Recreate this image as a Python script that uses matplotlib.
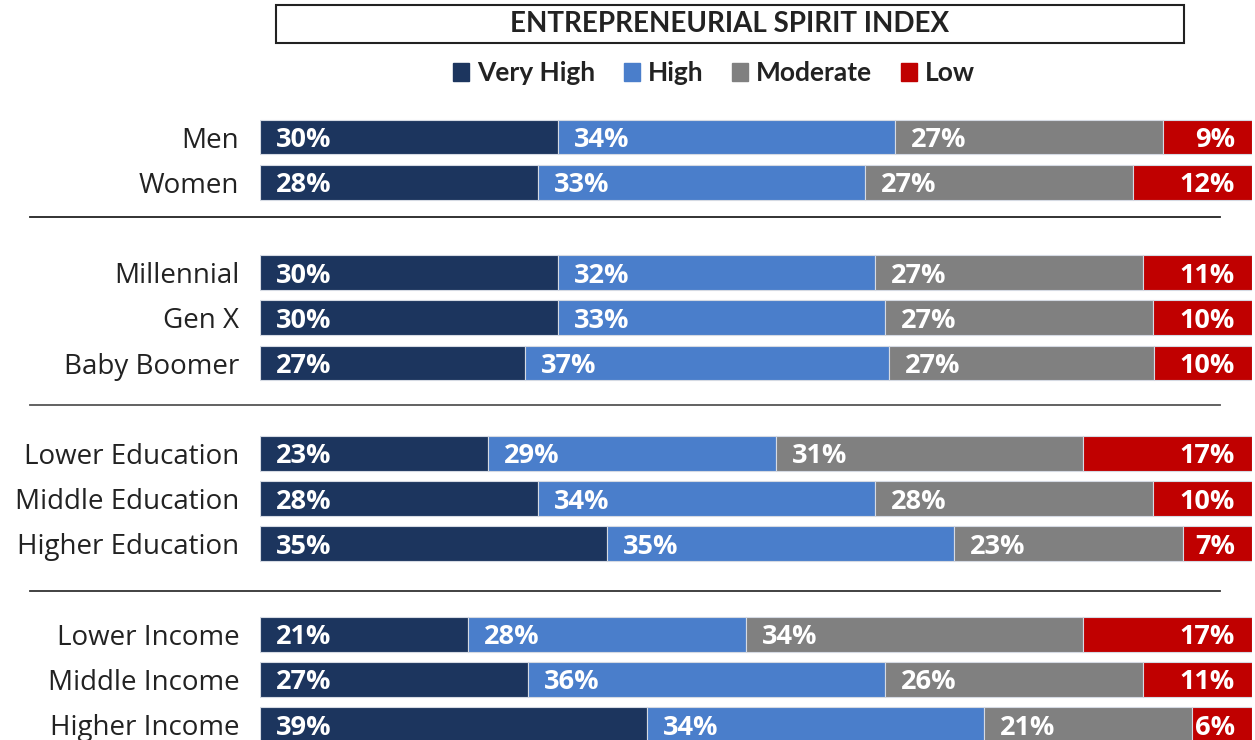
import matplotlib.pyplot as plt
import matplotlib.patches as mpatches
from matplotlib.lines import Line2D
import numpy as np

plt.rcParams['font.family'] = ['Lato', 'DejaVu Sans']

categories = ['Men', 'Women', 'Millennial', 'Gen X', 'Baby Boomer',
              'Lower Education', 'Middle Education', 'Higher Education',
              'Lower Income', 'Middle Income', 'Higher Income']
very_high = [30, 28, 30, 30, 27, 23, 28, 35, 21, 27, 39]
high = [34, 33, 32, 33, 37, 29, 34, 35, 28, 36, 34]
moderate = [27, 27, 27, 27, 27, 31, 28, 23, 34, 26, 21]
low = [9, 12, 11, 10, 10, 17, 10, 7, 17, 11, 6]
series_names = ['Very High', 'High', 'Moderate', 'Low']
colors = ['#1c355e', '#4a7ecb', '#808080', '#c00000']

# rows with a blank slot between groups
ypos = np.array([0, 1, 3, 4, 5, 7, 8, 9, 11, 12, 13])

W, H = 1255, 740
fig = plt.figure(figsize=(W / 100, H / 100), dpi=100)
top_px, bot_px = 115, 740
ax = fig.add_axes([260 / W, 1 - bot_px / H, (1252 - 260) / W, (bot_px - top_px) / H])

step = 45.2
ax.set_ylim((bot_px - 137) / step, (top_px - 137) / step)
ax.set_xlim(0, 100)

series = np.array([very_high, high, moderate, low], dtype=float)
# rounded labels may not add to exactly 100, scale each row to full width
shares = series / series.sum(axis=0) * 100

num_font = dict(family='Open Sans', size=19.5, weight='bold', color='white')
left = np.zeros(len(categories))
for i in range(4):
    ax.barh(ypos, shares[i], left=left, height=0.77, color=colors[i],
            edgecolor='#d5dae3', linewidth=0.8)
    for y, l, w, v in zip(ypos, left, shares[i], series[i]):
        if i == 3:
            ax.annotate(f'{v:.0f}%', (l + w, y), xytext=(-17, 0), textcoords='offset pixels',
                        ha='right', va='center_baseline', **num_font)
        else:
            ax.annotate(f'{v:.0f}%', (l, y), xytext=(16, 0), textcoords='offset pixels',
                        ha='left', va='center_baseline', **num_font)
    left += shares[i]

ax.set_yticks(ypos)
ax.set_yticklabels(categories, fontsize=20, color='#222222', family='Open Sans')
ax.tick_params(axis='y', length=0, pad=15)
ax.set_xticks([])
for s in ax.spines.values():
    s.set_visible(False)

# group separators
for py, c in [(217, '#222222'), (405, '#555555'), (591, '#333333')]:
    fig.add_artist(Line2D([30 / W, 1220 / W], [1 - py / H, 1 - py / H],
                          transform=fig.transFigure, color=c, linewidth=1.3))

# title box
fig.add_artist(mpatches.Rectangle((276 / W, 1 - 43 / H), (1184 - 276) / W, 38 / H,
                                  transform=fig.transFigure, fill=False,
                                  edgecolor='#222222', linewidth=1.5))
fig.text(730 / W, 1 - 24 / H, 'ENTREPRENEURIAL SPIRIT INDEX', ha='center', va='center',
         fontsize=20, fontweight='bold', color='#222222')

handles = [mpatches.Patch(color=c, label=n) for c, n in zip(colors, series_names)]
leg = fig.legend(handles=handles, loc='center', bbox_to_anchor=(714 / W, 1 - 73 / H),
                 ncol=4, frameon=False, handlelength=0.6, handleheight=0.65,
                 handletextpad=0.3, columnspacing=1.1,
                 prop={'size': 19, 'weight': 'bold'})
for t in leg.get_texts():
    t.set_color('#222222')

fig.savefig('out.png', dpi=100)
